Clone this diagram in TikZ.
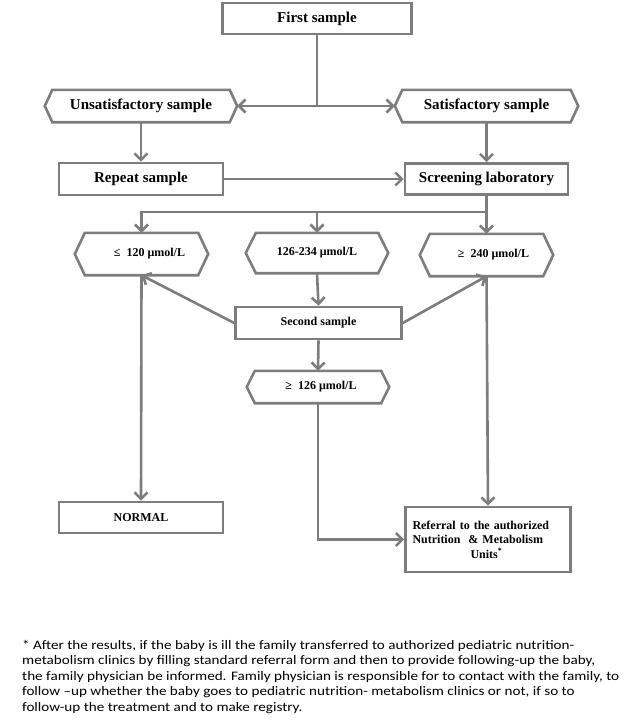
\documentclass[tikz,border=0pt]{standalone}
\usepackage{fontspec}
\setmainfont{Liberation Serif}
\newfontfamily\notefont[FakeStretch=1.165]{Carlito}
\usetikzlibrary{arrows.meta}
\definecolor{lg}{RGB}{125,125,125}
\tikzset{
  plain/.style={draw=lg, line width=2.6pt},
  conn/.style={draw=lg, line width=2.6pt, -{Straight Barb[length=6.5pt,width=13pt]}},
  bigtxt/.style={inner sep=0pt, font=\fontsize{15}{18}\selectfont\bfseries},
  smalltxt/.style={inner sep=0pt, font=\fontsize{12}{14.5}\selectfont\bfseries},
  rbox/.style={draw=lg, line width=2.6pt, fill=white},
  note/.style={inner sep=0pt, anchor=base west, font=\notefont\fontsize{13}{15.5}\selectfont}
}
\newcommand{\hexline}[2]{\draw[plain, line join=miter] ([xshift=#2]#1.north west) -- ([xshift=-#2]#1.north east) -- (#1.east) -- ([xshift=-#2]#1.south east) -- ([xshift=#2]#1.south west) -- (#1.west) -- cycle;}
\begin{document}
\begin{tikzpicture}[x=1pt,y=-1pt]
\useasboundingbox[fill=white] (0,0) rectangle (630,728);
% row 1
\node[bigtxt, rbox, minimum width=189pt, minimum height=31pt] (first) at (317,18.5) {First sample};
% row 2
\node[bigtxt, minimum width=192pt, minimum height=32pt] (unsat) at (141,106) {Unsatisfactory sample};
\node[bigtxt, minimum width=183pt, minimum height=32pt] (sat) at (486.5,106) {Satisfactory sample};
\hexline{unsat}{7.5pt}
\hexline{sat}{7.5pt}
% row 3
\node[bigtxt, rbox, minimum width=164pt, minimum height=32pt] (repeat) at (141,179) {Repeat sample};
\node[bigtxt, rbox, minimum width=163pt, minimum height=31pt] (screen) at (486.5,179) {Screening laboratory};
% row 4
\node[smalltxt, minimum width=133pt, minimum height=42pt] (low) at (141.5,254) {\hspace{16pt}≤\ \ 120 μmol/L};
\node[smalltxt, minimum width=142pt, minimum height=40pt] (mid) at (317,253) {126-234 μmol/L};
\node[smalltxt, minimum width=133pt, minimum height=42pt] (high) at (486.5,255) {\hspace{14pt}≥\ \ 240 μmol/L};
\hexline{low}{10pt}
\hexline{mid}{10pt}
\hexline{high}{10pt}
% row 5
\node[smalltxt, rbox, minimum width=166pt, minimum height=32pt] (second) at (318.5,323) {Second sample};
\node[smalltxt, minimum width=142pt, minimum height=32pt] (ge) at (318,387) {\hspace{6pt}≥\ \ 126 μmol/L};
\hexline{ge}{8pt}
% row 6
\node[smalltxt, rbox, minimum width=164pt, minimum height=31pt] (normal) at (141,517.5) {NORMAL\hspace{32pt}};
\node[smalltxt, rbox, minimum width=165pt, minimum height=65pt, align=left, text width=151pt] (referral) at (488,539.5)
  {Referral to the authorized\\Nutrition\ \ \& Metabolism\\\hspace*{58pt}Units\textsuperscript{*}};
% connectors
\coordinate (j) at (first.south |- unsat.east);
\draw[plain] (first.south) -- (j);
\draw[conn] (j) -- (unsat.east);
\draw[conn] (j) -- (sat.west);
\draw[conn] (unsat.south) -- (repeat.north);
\draw[conn] (sat.south) -- (screen.north);
\draw[conn] (repeat.east) -- (repeat.east -| screen.west);
\coordinate (dr) at (486.5,212);
\draw[plain] (screen.south) -- (dr);
\draw[conn] (dr) -| (low.north);
\draw[conn] (dr) -- (high.north);
\draw[conn] (dr -| mid.north) -- (mid.north);
\draw[conn] (mid.south) -- (second.north);
\draw[conn] (second.west) -- (low.south);
\draw[conn] (second.east) -- (high.south);
\draw[conn] (second.south) -- (ge.north);
\draw[conn] (low.south) -- (normal.north);
\draw[conn] (high.south) -- (referral.north);
\draw[conn] (ge.south) |- (referral.west);
% footnote
\node[note] (n1) at (22,649) {* After the results, if the baby is ill the family transferred to authorized pediatric nutrition-};
\node[note] (n2) at (22,664.5) {metabolism clinics by filling standard referral form and then to provide following-up the baby,};
\node[note] (n3) at (22,680) {the family physician be informed. Family physician is responsible for to contact with the family, to};
\node[note] (n4) at (22,695.5) {follow –up whether the baby goes to pediatric nutrition- metabolism clinics or not, if so to};
\node[note] (n5) at (22,711) {follow-up the treatment and to make registry.};
\end{tikzpicture}
\end{document}
